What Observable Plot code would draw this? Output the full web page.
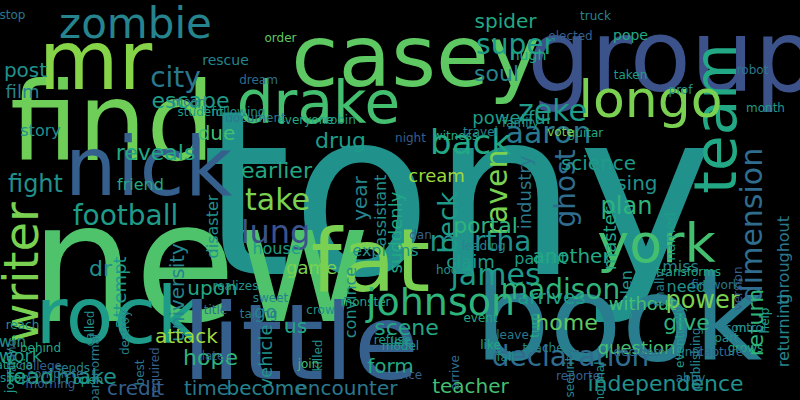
<!DOCTYPE html>
<html>
<head>
<meta charset="utf-8">
<script src="https://cdn.jsdelivr.net/npm/d3@7"></script>
<script src="https://cdn.jsdelivr.net/npm/@observablehq/plot@0.6"></script>
<style>
  html, body { margin: 0; padding: 0; background: #000; }
</style>
</head>
<body>
<div id="chart"></div>
<script>
// word cloud: word, layout position (x, y), font size, rotation, colour shade (0..1 on viridis)
const words  = ["tony","new","book","group","find","casey","mr","nick","fat","drake","rock","little","team","longo","york","zombie","writer","football","johnson","martha","james","madison","declaration","independence","dimension","return","throughout","returning","zeke","aaron","back","super","spider","soul","city","escape","post","film","story","due","reveals","drug","earlier","take","lung","fight","friend","raven","industry","beck","ghost","science","using","plan","master","miss","need","power","give","question","portal","explains","parent","another","claim","arrives","stolen","without","scene","convince","us","upon","attempt","dr","university","disaster","house","game","attack","hope","vehicle","go","work","lead","make","credit","time","become","encounter","form","home","teacher","year","assistant","suddenly","cream","powerful","win","stop","rescue","order","alone","shop","morning","hugh","truck","elected","pope","taken","robot","prof","month","guitar","family","vote","witness","travel","night","robin","document","everyone","following","student","moon","dream","crow","monster","left","refuse","device","killed","join","model","arrive","fall","teacher","leave","like","best","college","behind","sends","complete","open","called","destroy","required","paranormal","journey","reach","title","event","leading","dan","hook","firework","transforms","version","help","control","part","grows","decides","publishing","original","eventually","reporter","normal","security","turn","m","abby","capture","named","finally","patricia","taking","later","realizes","sweet"];
const xs     = [457,200,618,672,112,415,95,148,370,318,118,300,717,650,656,135,22,125,440,480,495,560,570,665,752,755,783,783,552,548,470,515,505,496,175,190,25,22,40,216,155,340,276,277,275,35,140,497,525,448,566,598,630,626,610,680,686,702,686,636,485,385,540,571,470,551,626,642,406,350,295,212,120,100,177,212,276,311,186,210,266,265,20,30,86,135,206,266,346,390,566,470,360,380,396,436,511,12,12,225,280,12,14,50,528,595,570,630,630,752,680,765,585,520,560,455,480,410,340,255,305,238,200,188,258,320,365,400,392,402,318,308,400,455,505,545,512,490,140,40,40,72,55,88,90,125,155,95,10,22,215,480,483,420,450,715,688,738,765,745,726,745,636,696,680,680,580,600,570,535,740,690,720,670,660,10,258,215,235,270,332,300,310,388,382];
const ys     = [200,268,322,58,125,58,62,168,262,104,318,345,118,100,244,24,272,216,302,242,275,290,357,383,225,322,260,330,111,133,143,45,21,73,78,100,70,92,130,133,152,140,170,200,232,184,184,192,192,222,188,163,183,206,238,266,286,300,322,348,225,250,258,256,262,297,294,304,327,302,326,288,292,268,292,226,248,268,336,357,356,312,356,376,376,388,388,388,388,366,322,386,198,210,232,176,118,341,15,60,38,355,378,384,55,16,36,35,75,70,90,108,133,123,132,136,132,138,120,118,120,112,112,102,80,310,302,342,340,375,355,364,346,372,357,348,335,345,372,366,348,368,374,380,328,332,372,368,370,325,310,318,246,235,270,285,272,288,320,328,338,348,352,358,352,336,376,382,373,325,328,378,352,236,288,365,314,356,286,298,306,258,240,248];
const sizes  = [230,165,118,100,108,86,82,82,88,58,78,106,58,52,54,42,48,28,38,28,30,28,28,22,30,22,16,16,30,30,34,28,20,22,28,22,20,18,16,20,22,22,22,30,32,24,16,30,18,26,28,20,20,24,18,16,16,24,22,18,22,16,16,20,18,20,16,18,22,16,20,20,18,22,20,16,16,18,20,22,18,18,18,22,22,20,20,20,20,20,22,20,20,16,18,18,18,16,12,14,12,12,12,12,14,12,12,14,12,12,12,12,12,12,12,12,12,12,12,12,12,12,12,12,12,12,12,12,12,12,12,12,12,12,12,12,12,12,12,12,12,12,12,12,12,12,12,12,12,12,12,12,12,12,12,12,12,12,12,12,12,12,12,12,12,12,12,12,12,12,12,12,12,14,12,12,12,12,12,12,12,12,12,12,12];
const angles = [0,0,0,0,0,0,0,0,0,0,0,0,-90,0,0,0,-90,0,0,0,0,0,0,0,-90,-90,-90,-90,0,0,0,0,0,0,0,0,0,0,0,0,0,0,0,0,0,0,0,-90,-90,-90,-90,0,0,0,-90,0,0,0,0,0,0,0,0,0,0,0,-90,0,0,-90,0,0,-90,0,-90,-90,0,0,0,0,-90,0,0,0,0,0,0,0,0,0,0,0,-90,-90,-90,0,0,0,0,0,0,-90,0,0,0,0,0,0,0,0,0,0,0,0,0,0,0,0,0,0,0,0,0,0,0,0,0,0,0,0,-90,0,0,-90,0,0,0,0,-90,0,0,0,0,0,-90,-90,-90,-90,-90,0,0,0,0,0,0,0,0,-90,-90,0,0,0,0,-90,0,-90,0,-90,-90,-90,0,0,0,-90,-90,0,0,0,0,0,0,0,0];
const shades = [0.5,0.72,0.42,0.25,0.78,0.75,0.82,0.3,0.8,0.7,0.55,0.3,0.6,0.8,0.7,0.45,0.8,0.55,0.65,0.5,0.55,0.65,0.35,0.5,0.35,0.65,0.4,0.45,0.55,0.4,0.6,0.55,0.6,0.45,0.4,0.55,0.5,0.45,0.5,0.7,0.6,0.55,0.6,0.8,0.25,0.5,0.6,0.8,0.4,0.55,0.35,0.55,0.5,0.65,0.6,0.45,0.5,0.8,0.65,0.7,0.65,0.5,0.55,0.6,0.55,0.55,0.5,0.7,0.6,0.5,0.6,0.6,0.55,0.5,0.45,0.5,0.55,0.8,0.85,0.65,0.5,0.45,0.55,0.6,0.5,0.3,0.4,0.45,0.4,0.6,0.75,0.7,0.45,0.5,0.6,0.85,0.55,0.5,0.4,0.45,0.75,0.35,0.5,0.3,0.6,0.45,0.3,0.6,0.55,0.4,0.5,0.55,0.6,0.5,0.8,0.6,0.45,0.3,0.55,0.4,0.6,0.5,0.55,0.4,0.35,0.5,0.6,0.45,0.55,0.3,0.5,0.7,0.55,0.35,0.5,0.45,0.4,0.6,0.4,0.3,0.6,0.45,0.35,0.55,0.5,0.45,0.3,0.4,0.55,0.5,0.35,0.6,0.45,0.3,0.5,0.4,0.6,0.3,0.55,0.45,0.5,0.6,0.35,0.45,0.4,0.55,0.3,0.5,0.45,0.6,0.5,0.4,0.35,0.55,0.45,0.6,0.4,0.3,0.5,0.45,0.6,0.35];

const cloud = words.map((w, i) => ({word: w, x: xs[i], y: ys[i], size: sizes[i], angle: angles[i], shade: shades[i]}));

const chart = Plot.plot({
  width: 800,
  height: 400,
  margin: 0,
  style: {background: "#000", fontFamily: "'DejaVu Sans', sans-serif"},
  x: {domain: [0, 800], range: [0, 800], axis: null},
  y: {domain: [0, 400], range: [0, 400], axis: null},
  color: {type: "linear", scheme: "viridis", domain: [0, 1]},
  marks: [
    Plot.text(cloud, {
      x: "x", y: "y", text: "word",
      fontSize: "size", rotate: "angle", fill: "shade",
      textAnchor: "middle", lineAnchor: "middle"
    })
  ]
});
d3.select("#chart").append(() => chart);
</script>
</body>
</html>
